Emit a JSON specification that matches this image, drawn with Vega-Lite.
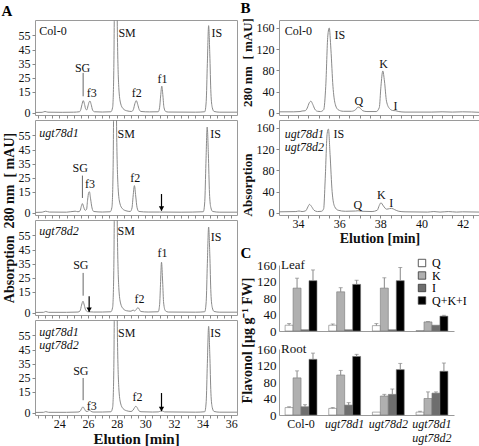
{
"$schema": "https://vega.github.io/schema/vega-lite/v6.json",
"padding": {"left": 1, "top": 1, "right": 1, "bottom": 0},
"config": {
  "font": "Liberation Serif",
  "view": {"stroke": "#9a9a9a", "strokeWidth": 1},
  "axis": {"labelFont": "Liberation Serif", "titleFont": "Liberation Serif", "labelFontSize": 12, "titleFontSize": 14, "titleFontWeight": "bold", "labelColor": "#111", "titleColor": "#111", "tickColor": "#888", "domainColor": "#9a9a9a", "grid": false, "tickSize": 3, "labelPadding": 2, "titlePadding": 2, "labelOverlap": false},
  "title": {"font": "Liberation Serif", "fontSize": 15, "fontWeight": "bold", "anchor": "start", "offset": 1, "color": "#000"},
  "text": {"font": "Liberation Serif", "fontSize": 12, "color": "#111"},
  "legend": {"labelFont": "Liberation Serif", "labelFontSize": 12}
},
"datasets": {
  "chromA": [
    {"p":"a1","t":22.3,"v":0.3},{"p":"a1","t":22.8,"v":0.4},{"p":"a1","t":23.0,"v":1.0},{"p":"a1","t":23.2,"v":0.5},{"p":"a1","t":24.2,"v":0.4},{"p":"a1","t":25.0,"v":0.5},{"p":"a1","t":25.4,"v":0.8},{"p":"a1","t":25.5,"v":2.5},{"p":"a1","t":25.58,"v":6},{"p":"a1","t":25.67,"v":8.7},{"p":"a1","t":25.76,"v":6},{"p":"a1","t":25.85,"v":2.5},{"p":"a1","t":25.92,"v":2.2},{"p":"a1","t":26.0,"v":5},{"p":"a1","t":26.08,"v":7.8},{"p":"a1","t":26.14,"v":8.4},{"p":"a1","t":26.22,"v":6},{"p":"a1","t":26.32,"v":2},{"p":"a1","t":26.45,"v":0.8},{"p":"a1","t":27.0,"v":0.6},{"p":"a1","t":27.6,"v":0.8},{"p":"a1","t":27.72,"v":4},{"p":"a1","t":27.8,"v":30},{"p":"a1","t":27.9,"v":140},{"p":"a1","t":27.98,"v":120},{"p":"a1","t":28.06,"v":50},{"p":"a1","t":28.15,"v":18},{"p":"a1","t":28.27,"v":7},{"p":"a1","t":28.45,"v":3},{"p":"a1","t":28.7,"v":1.5},{"p":"a1","t":29.05,"v":1},{"p":"a1","t":29.17,"v":2.5},{"p":"a1","t":29.27,"v":6.5},{"p":"a1","t":29.37,"v":8.7},{"p":"a1","t":29.47,"v":6},{"p":"a1","t":29.57,"v":2.5},{"p":"a1","t":29.7,"v":1},{"p":"a1","t":30.3,"v":0.7},{"p":"a1","t":30.9,"v":0.8},{"p":"a1","t":31.0,"v":4},{"p":"a1","t":31.07,"v":12},{"p":"a1","t":31.15,"v":19},{"p":"a1","t":31.23,"v":12},{"p":"a1","t":31.3,"v":4},{"p":"a1","t":31.42,"v":1},{"p":"a1","t":31.6,"v":0.6},{"p":"a1","t":33.5,"v":0.5},{"p":"a1","t":34.15,"v":0.8},{"p":"a1","t":34.25,"v":8},{"p":"a1","t":34.33,"v":35},{"p":"a1","t":34.42,"v":62},{"p":"a1","t":34.5,"v":42},{"p":"a1","t":34.58,"v":14},{"p":"a1","t":34.67,"v":4},{"p":"a1","t":34.8,"v":1},{"p":"a1","t":35.2,"v":0.5},{"p":"a1","t":36.4,"v":0.5},
    {"p":"a2","t":22.3,"v":0.3},{"p":"a2","t":22.8,"v":0.5},{"p":"a2","t":23.05,"v":1.2},{"p":"a2","t":23.3,"v":0.6},{"p":"a2","t":24.5,"v":0.5},{"p":"a2","t":25.1,"v":1.2},{"p":"a2","t":25.3,"v":0.8},{"p":"a2","t":25.45,"v":1.5},{"p":"a2","t":25.53,"v":4.5},{"p":"a2","t":25.61,"v":6.6},{"p":"a2","t":25.7,"v":4},{"p":"a2","t":25.8,"v":1.8},{"p":"a2","t":25.9,"v":2.5},{"p":"a2","t":25.97,"v":9},{"p":"a2","t":26.05,"v":14.5},{"p":"a2","t":26.1,"v":15},{"p":"a2","t":26.18,"v":10},{"p":"a2","t":26.28,"v":3.5},{"p":"a2","t":26.4,"v":1},{"p":"a2","t":27.0,"v":0.6},{"p":"a2","t":27.55,"v":0.8},{"p":"a2","t":27.67,"v":4},{"p":"a2","t":27.75,"v":30},{"p":"a2","t":27.85,"v":140},{"p":"a2","t":27.93,"v":120},{"p":"a2","t":28.01,"v":50},{"p":"a2","t":28.1,"v":18},{"p":"a2","t":28.22,"v":7},{"p":"a2","t":28.4,"v":3},{"p":"a2","t":28.65,"v":1.5},{"p":"a2","t":28.95,"v":1},{"p":"a2","t":29.07,"v":3.5},{"p":"a2","t":29.15,"v":12},{"p":"a2","t":29.24,"v":19.4},{"p":"a2","t":29.33,"v":12},{"p":"a2","t":29.42,"v":4},{"p":"a2","t":29.55,"v":1},{"p":"a2","t":30.2,"v":0.6},{"p":"a2","t":31.0,"v":0.6},{"p":"a2","t":32.5,"v":0.5},{"p":"a2","t":34.05,"v":0.8},{"p":"a2","t":34.15,"v":8},{"p":"a2","t":34.23,"v":35},{"p":"a2","t":34.32,"v":61},{"p":"a2","t":34.4,"v":42},{"p":"a2","t":34.48,"v":14},{"p":"a2","t":34.57,"v":4},{"p":"a2","t":34.7,"v":1},{"p":"a2","t":35.2,"v":0.5},{"p":"a2","t":36.4,"v":0.5},
    {"p":"a3","t":22.3,"v":0.3},{"p":"a3","t":22.9,"v":0.4},{"p":"a3","t":23.05,"v":1.0},{"p":"a3","t":23.25,"v":0.4},{"p":"a3","t":24.5,"v":0.4},{"p":"a3","t":25.3,"v":0.6},{"p":"a3","t":25.45,"v":1.5},{"p":"a3","t":25.55,"v":5.5},{"p":"a3","t":25.65,"v":8.3},{"p":"a3","t":25.74,"v":5.5},{"p":"a3","t":25.84,"v":2},{"p":"a3","t":26.0,"v":0.8},{"p":"a3","t":26.4,"v":0.6},{"p":"a3","t":27.0,"v":0.6},{"p":"a3","t":27.6,"v":0.8},{"p":"a3","t":27.72,"v":4},{"p":"a3","t":27.8,"v":30},{"p":"a3","t":27.9,"v":140},{"p":"a3","t":27.98,"v":120},{"p":"a3","t":28.06,"v":50},{"p":"a3","t":28.15,"v":18},{"p":"a3","t":28.27,"v":7},{"p":"a3","t":28.45,"v":3},{"p":"a3","t":28.7,"v":1.5},{"p":"a3","t":29.0,"v":1.2},{"p":"a3","t":29.15,"v":2},{"p":"a3","t":29.25,"v":1.4},{"p":"a3","t":29.38,"v":2.5},{"p":"a3","t":29.48,"v":3.8},{"p":"a3","t":29.57,"v":2.8},{"p":"a3","t":29.68,"v":1},{"p":"a3","t":30.2,"v":0.6},{"p":"a3","t":30.9,"v":0.8},{"p":"a3","t":31.0,"v":6},{"p":"a3","t":31.06,"v":20},{"p":"a3","t":31.13,"v":36},{"p":"a3","t":31.21,"v":22},{"p":"a3","t":31.28,"v":7},{"p":"a3","t":31.4,"v":1.5},{"p":"a3","t":31.6,"v":0.6},{"p":"a3","t":33.5,"v":0.5},{"p":"a3","t":34.15,"v":0.8},{"p":"a3","t":34.25,"v":8},{"p":"a3","t":34.33,"v":35},{"p":"a3","t":34.42,"v":61},{"p":"a3","t":34.5,"v":42},{"p":"a3","t":34.58,"v":14},{"p":"a3","t":34.67,"v":4},{"p":"a3","t":34.8,"v":1},{"p":"a3","t":35.2,"v":0.5},{"p":"a3","t":36.4,"v":0.5},
    {"p":"a4","t":22.3,"v":0.3},{"p":"a4","t":22.9,"v":0.4},{"p":"a4","t":23.05,"v":0.9},{"p":"a4","t":23.25,"v":0.4},{"p":"a4","t":24.5,"v":0.4},{"p":"a4","t":25.3,"v":0.6},{"p":"a4","t":25.45,"v":1.2},{"p":"a4","t":25.56,"v":3.2},{"p":"a4","t":25.65,"v":4.3},{"p":"a4","t":25.74,"v":3},{"p":"a4","t":25.85,"v":1.2},{"p":"a4","t":25.95,"v":1},{"p":"a4","t":26.05,"v":1.6},{"p":"a4","t":26.12,"v":1.8},{"p":"a4","t":26.2,"v":1.2},{"p":"a4","t":26.35,"v":0.6},{"p":"a4","t":27.0,"v":0.6},{"p":"a4","t":27.6,"v":0.8},{"p":"a4","t":27.72,"v":4},{"p":"a4","t":27.8,"v":30},{"p":"a4","t":27.9,"v":140},{"p":"a4","t":27.98,"v":120},{"p":"a4","t":28.06,"v":50},{"p":"a4","t":28.15,"v":18},{"p":"a4","t":28.27,"v":7},{"p":"a4","t":28.45,"v":3},{"p":"a4","t":28.7,"v":1.5},{"p":"a4","t":29.0,"v":1},{"p":"a4","t":29.15,"v":2},{"p":"a4","t":29.25,"v":3.8},{"p":"a4","t":29.34,"v":4.7},{"p":"a4","t":29.44,"v":3.6},{"p":"a4","t":29.55,"v":1.5},{"p":"a4","t":29.7,"v":0.8},{"p":"a4","t":30.5,"v":0.6},{"p":"a4","t":30.9,"v":0.7},{"p":"a4","t":31.05,"v":1.2},{"p":"a4","t":31.2,"v":1.3},{"p":"a4","t":31.35,"v":0.7},{"p":"a4","t":33.5,"v":0.5},{"p":"a4","t":34.15,"v":0.8},{"p":"a4","t":34.25,"v":8},{"p":"a4","t":34.33,"v":35},{"p":"a4","t":34.42,"v":61.5},{"p":"a4","t":34.5,"v":42},{"p":"a4","t":34.58,"v":14},{"p":"a4","t":34.67,"v":4},{"p":"a4","t":34.8,"v":1},{"p":"a4","t":35.2,"v":0.5},{"p":"a4","t":36.4,"v":0.5}
  ],
  "peakA": [
    {"p":"a1","t":25.62,"v":32,"label":"SG"},{"p":"a1","t":26.26,"v":14,"label":"f3"},{"p":"a1","t":29.4,"v":14,"label":"f2"},{"p":"a1","t":31.2,"v":24,"label":"f1"},
    {"p":"a2","t":25.45,"v":32,"label":"SG"},{"p":"a2","t":26.14,"v":20.5,"label":"f3"},{"p":"a2","t":29.3,"v":25,"label":"f2"},
    {"p":"a3","t":25.5,"v":34,"label":"SG"},{"p":"a3","t":29.6,"v":10,"label":"f2"},{"p":"a3","t":31.2,"v":42.6,"label":"f1"},
    {"p":"a4","t":25.5,"v":30,"label":"SG"},{"p":"a4","t":26.26,"v":5,"label":"f3"},{"p":"a4","t":29.45,"v":11.3,"label":"f2"}
  ],
  "sideA": [
    {"p":"a1","t":28.12,"v":57,"label":"SM"},{"p":"a1","t":34.62,"v":57,"label":"IS"},
    {"p":"a2","t":28.06,"v":56,"label":"SM"},{"p":"a2","t":34.53,"v":56,"label":"IS"},
    {"p":"a3","t":28.06,"v":58,"label":"SM"},{"p":"a3","t":34.57,"v":54,"label":"IS"},
    {"p":"a4","t":28.1,"v":57,"label":"SM"},{"p":"a4","t":34.53,"v":57,"label":"IS"}
  ],
  "nameA": [
    {"p":"a1","t":22.6,"v":58,"label":"Col-0"},
    {"p":"a2","t":22.6,"v":57,"label":"ugt78d1"},
    {"p":"a3","t":22.6,"v":58,"label":"ugt78d2"},
    {"p":"a4","t":22.6,"v":57.5,"label":"ugt78d1"},{"p":"a4","t":22.6,"v":48.5,"label":"ugt78d2"}
  ],
  "markA": [
    {"p":"a1","t":25.66,"v":28.4,"v2":11.8},{"p":"a2","t":25.61,"v":26.5,"v2":10.6},{"p":"a3","t":25.66,"v":28.4,"v2":12.2},{"p":"a4","t":25.66,"v":24.8,"v2":9}
  ],
  "arrA": [
    {"p":"a2","t":31.13,"v":13.4,"v2":1.6},{"p":"a3","t":26.08,"v":11.8,"v2":0.8},{"p":"a4","t":31.13,"v":14.1,"v2":1.3}
  ],
  "chromB": [
    {"p":"b1","t":33.08,"v":2},{"p":"b1","t":33.8,"v":2},{"p":"b1","t":34.1,"v":2.5},{"p":"b1","t":34.2,"v":3.5},{"p":"b1","t":34.35,"v":4},{"p":"b1","t":34.45,"v":9},{"p":"b1","t":34.55,"v":19},{"p":"b1","t":34.63,"v":22},{"p":"b1","t":34.72,"v":16},{"p":"b1","t":34.82,"v":7},{"p":"b1","t":34.95,"v":3},{"p":"b1","t":35.1,"v":2.5},{"p":"b1","t":35.25,"v":6},{"p":"b1","t":35.35,"v":50},{"p":"b1","t":35.45,"v":145},{"p":"b1","t":35.52,"v":160},{"p":"b1","t":35.6,"v":120},{"p":"b1","t":35.7,"v":50},{"p":"b1","t":35.8,"v":18},{"p":"b1","t":35.95,"v":6},{"p":"b1","t":36.2,"v":3},{"p":"b1","t":36.6,"v":3},{"p":"b1","t":36.8,"v":6},{"p":"b1","t":36.92,"v":11},{"p":"b1","t":37.02,"v":9},{"p":"b1","t":37.15,"v":4},{"p":"b1","t":37.35,"v":2.5},{"p":"b1","t":37.8,"v":2.5},{"p":"b1","t":37.95,"v":10},{"p":"b1","t":38.03,"v":50},{"p":"b1","t":38.12,"v":79},{"p":"b1","t":38.2,"v":60},{"p":"b1","t":38.3,"v":22},{"p":"b1","t":38.45,"v":8},{"p":"b1","t":38.6,"v":4.5},{"p":"b1","t":38.75,"v":4},{"p":"b1","t":38.9,"v":2.5},{"p":"b1","t":39.2,"v":1.5},{"p":"b1","t":40.5,"v":1.5},{"p":"b1","t":41.0,"v":2},{"p":"b1","t":41.5,"v":1.5},{"p":"b1","t":42.0,"v":2},{"p":"b1","t":42.84,"v":1},
    {"p":"b2","t":33.08,"v":2},{"p":"b2","t":33.9,"v":2.5},{"p":"b2","t":34.05,"v":3.5},{"p":"b2","t":34.2,"v":2.5},{"p":"b2","t":34.38,"v":4},{"p":"b2","t":34.48,"v":11},{"p":"b2","t":34.56,"v":16},{"p":"b2","t":34.66,"v":12},{"p":"b2","t":34.78,"v":5},{"p":"b2","t":34.95,"v":2.5},{"p":"b2","t":35.15,"v":3},{"p":"b2","t":35.25,"v":8},{"p":"b2","t":35.32,"v":60},{"p":"b2","t":35.42,"v":150},{"p":"b2","t":35.48,"v":158},{"p":"b2","t":35.56,"v":110},{"p":"b2","t":35.66,"v":40},{"p":"b2","t":35.78,"v":12},{"p":"b2","t":35.95,"v":5},{"p":"b2","t":36.3,"v":3},{"p":"b2","t":36.8,"v":3.5},{"p":"b2","t":36.92,"v":4},{"p":"b2","t":37.1,"v":3},{"p":"b2","t":37.6,"v":2.5},{"p":"b2","t":37.85,"v":5},{"p":"b2","t":37.95,"v":14},{"p":"b2","t":38.03,"v":19},{"p":"b2","t":38.15,"v":13},{"p":"b2","t":38.3,"v":7},{"p":"b2","t":38.45,"v":8},{"p":"b2","t":38.55,"v":8.5},{"p":"b2","t":38.7,"v":6},{"p":"b2","t":38.9,"v":3},{"p":"b2","t":39.2,"v":2},{"p":"b2","t":40.3,"v":1.5},{"p":"b2","t":40.6,"v":2.5},{"p":"b2","t":40.9,"v":1.5},{"p":"b2","t":41.3,"v":2.5},{"p":"b2","t":41.7,"v":1.5},{"p":"b2","t":42.0,"v":2},{"p":"b2","t":42.84,"v":1.5}
  ],
  "peakB": [
    {"p":"b1","t":36.96,"v":23,"label":"Q"},{"p":"b1","t":38.16,"v":92,"label":"K"},{"p":"b1","t":38.74,"v":12.5,"label":"I"},
    {"p":"b2","t":36.91,"v":15.7,"label":"Q"},{"p":"b2","t":38.05,"v":32.8,"label":"K"},{"p":"b2","t":38.53,"v":19,"label":"I"}
  ],
  "sideB": [
    {"p":"b1","t":35.78,"v":146,"label":"IS"},{"p":"b2","t":35.73,"v":149,"label":"IS"}
  ],
  "nameB": [
    {"p":"b1","t":33.36,"v":155,"label":"Col-0"},
    {"p":"b2","t":33.36,"v":149,"label":"ugt78d1"},{"p":"b2","t":33.36,"v":124,"label":"ugt78d2"}
  ],
  "flav": [
    {"organ":"Leaf","genotype":"Col-0","flavonol":"Q","value":14,"hi":18},
    {"organ":"Leaf","genotype":"Col-0","flavonol":"K","value":104,"hi":128},
    {"organ":"Leaf","genotype":"Col-0","flavonol":"I","value":3,"hi":3},
    {"organ":"Leaf","genotype":"Col-0","flavonol":"Q+K+I","value":122,"hi":148},
    {"organ":"Leaf","genotype":"ugt78d1","flavonol":"Q","value":14,"hi":17},
    {"organ":"Leaf","genotype":"ugt78d1","flavonol":"K","value":95,"hi":105},
    {"organ":"Leaf","genotype":"ugt78d1","flavonol":"I","value":3,"hi":3},
    {"organ":"Leaf","genotype":"ugt78d1","flavonol":"Q+K+I","value":113,"hi":123},
    {"organ":"Leaf","genotype":"ugt78d2","flavonol":"Q","value":13,"hi":18},
    {"organ":"Leaf","genotype":"ugt78d2","flavonol":"K","value":104,"hi":129},
    {"organ":"Leaf","genotype":"ugt78d2","flavonol":"I","value":3,"hi":3},
    {"organ":"Leaf","genotype":"ugt78d2","flavonol":"Q+K+I","value":122,"hi":154},
    {"organ":"Leaf","genotype":"ugt78d1 ugt78d2","flavonol":"Q","value":1,"hi":1},
    {"organ":"Leaf","genotype":"ugt78d1 ugt78d2","flavonol":"K","value":22,"hi":23},
    {"organ":"Leaf","genotype":"ugt78d1 ugt78d2","flavonol":"I","value":14,"hi":14},
    {"organ":"Leaf","genotype":"ugt78d1 ugt78d2","flavonol":"Q+K+I","value":36,"hi":38},
    {"organ":"Root","genotype":"Col-0","flavonol":"Q","value":18,"hi":20},
    {"organ":"Root","genotype":"Col-0","flavonol":"K","value":90,"hi":107},
    {"organ":"Root","genotype":"Col-0","flavonol":"I","value":20,"hi":25},
    {"organ":"Root","genotype":"Col-0","flavonol":"Q+K+I","value":135,"hi":150},
    {"organ":"Root","genotype":"ugt78d1","flavonol":"Q","value":16,"hi":18},
    {"organ":"Root","genotype":"ugt78d1","flavonol":"K","value":97,"hi":108},
    {"organ":"Root","genotype":"ugt78d1","flavonol":"I","value":24,"hi":30},
    {"organ":"Root","genotype":"ugt78d1","flavonol":"Q+K+I","value":142,"hi":147},
    {"organ":"Root","genotype":"ugt78d2","flavonol":"Q","value":7,"hi":7},
    {"organ":"Root","genotype":"ugt78d2","flavonol":"K","value":46,"hi":50},
    {"organ":"Root","genotype":"ugt78d2","flavonol":"I","value":50,"hi":63},
    {"organ":"Root","genotype":"ugt78d2","flavonol":"Q+K+I","value":110,"hi":125},
    {"organ":"Root","genotype":"ugt78d1 ugt78d2","flavonol":"Q","value":7,"hi":9},
    {"organ":"Root","genotype":"ugt78d1 ugt78d2","flavonol":"K","value":40,"hi":56},
    {"organ":"Root","genotype":"ugt78d1 ugt78d2","flavonol":"I","value":53,"hi":56},
    {"organ":"Root","genotype":"ugt78d1 ugt78d2","flavonol":"Q+K+I","value":106,"hi":126}
  ]
},
"hconcat": [
  {
    "title": {"text": "A"},
    "bounds": "flush",
    "spacing": 5,
    "vconcat": [
      {
        "width": 202, "height": 95,
        "layer": [
          {"data": {"name": "chromA"}, "transform": [{"filter": "datum.p == 'a1'"}],
           "mark": {"type": "line", "color": "#8a8a8a", "strokeWidth": 1, "interpolate": "monotone", "clip": true},
           "encoding": {
             "x": {"field": "t", "type": "quantitative", "scale": {"domain": [22.3, 36.4], "nice": false, "zero": false}, "axis": {"values": [22.5,23,23.5,24,24.5,25,25.5,26,26.5,27,27.5,28,28.5,29,29.5,30,30.5,31,31.5,32,32.5,33,33.5,34,34.5,35,35.5,36], "tickCount": 100, "labels": false, "title": null, "domain": false, "labelOverlap": false}},
             "y": {"field": "v", "type": "quantitative", "scale": {"domain": [-1.5, 66], "nice": false, "zero": false}, "axis": {"values": [0,15,25,35,45,55], "tickCount": 100, "format": "d", "title": null, "domain": false, "labelOverlap": false}}
           }},
          {"data": {"name": "markA"}, "transform": [{"filter": "datum.p == 'a1'"}],
           "mark": {"type": "rule", "color": "#666", "strokeWidth": 1},
           "encoding": {"x": {"field": "t", "type": "quantitative"}, "y": {"field": "v", "type": "quantitative"}, "y2": {"field": "v2"}}},
          {"data": {"name": "peakA"}, "transform": [{"filter": "datum.p == 'a1'"}],
           "mark": {"type": "text", "align": "center", "baseline": "middle"},
           "encoding": {"x": {"field": "t", "type": "quantitative"}, "y": {"field": "v", "type": "quantitative"}, "text": {"field": "label"}}},
          {"data": {"name": "sideA"}, "transform": [{"filter": "datum.p == 'a1'"}],
           "mark": {"type": "text", "align": "left", "baseline": "middle"},
           "encoding": {"x": {"field": "t", "type": "quantitative"}, "y": {"field": "v", "type": "quantitative"}, "text": {"field": "label"}}},
          {"data": {"name": "nameA"}, "transform": [{"filter": "datum.p == 'a1'"}],
           "mark": {"type": "text", "align": "left", "baseline": "middle", "fontStyle": "normal"},
           "encoding": {"x": {"field": "t", "type": "quantitative"}, "y": {"field": "v", "type": "quantitative"}, "text": {"field": "label"}}}
        ]
      },
      {
        "width": 202, "height": 95,
        "layer": [
          {"data": {"name": "chromA"}, "transform": [{"filter": "datum.p == 'a2'"}],
           "mark": {"type": "line", "color": "#8a8a8a", "strokeWidth": 1, "interpolate": "monotone", "clip": true},
           "encoding": {
             "x": {"field": "t", "type": "quantitative", "scale": {"domain": [22.3, 36.4], "nice": false, "zero": false}, "axis": {"values": [22.5,23,23.5,24,24.5,25,25.5,26,26.5,27,27.5,28,28.5,29,29.5,30,30.5,31,31.5,32,32.5,33,33.5,34,34.5,35,35.5,36], "tickCount": 100, "labels": false, "title": null, "domain": false, "labelOverlap": false}},
             "y": {"field": "v", "type": "quantitative", "scale": {"domain": [-1.5, 66], "nice": false, "zero": false}, "axis": {"values": [0,15,25,35,45,55], "tickCount": 100, "format": "d", "title": "Absorption\u00a0\u00a0280 nm\u00a0\u00a0[ mAU]", "titleY": 97.5, "domain": false, "labelOverlap": false}}
           }},
          {"data": {"name": "markA"}, "transform": [{"filter": "datum.p == 'a2'"}],
           "mark": {"type": "rule", "color": "#666", "strokeWidth": 1},
           "encoding": {"x": {"field": "t", "type": "quantitative"}, "y": {"field": "v", "type": "quantitative"}, "y2": {"field": "v2"}}},
          {"data": {"name": "arrA"}, "transform": [{"filter": "datum.p == 'a2'"}],
           "mark": {"type": "rule", "color": "#000", "strokeWidth": 1.2},
           "encoding": {"x": {"field": "t", "type": "quantitative"}, "y": {"field": "v", "type": "quantitative"}, "y2": {"field": "v2"}}},
          {"data": {"name": "arrA"}, "transform": [{"filter": "datum.p == 'a2'"}],
           "mark": {"type": "point", "shape": "triangle-down", "filled": true, "color": "#000", "size": 28, "opacity": 1, "yOffset": -2},
           "encoding": {"x": {"field": "t", "type": "quantitative"}, "y": {"field": "v2", "type": "quantitative"}}},
          {"data": {"name": "peakA"}, "transform": [{"filter": "datum.p == 'a2'"}],
           "mark": {"type": "text", "align": "center", "baseline": "middle"},
           "encoding": {"x": {"field": "t", "type": "quantitative"}, "y": {"field": "v", "type": "quantitative"}, "text": {"field": "label"}}},
          {"data": {"name": "sideA"}, "transform": [{"filter": "datum.p == 'a2'"}],
           "mark": {"type": "text", "align": "left", "baseline": "middle"},
           "encoding": {"x": {"field": "t", "type": "quantitative"}, "y": {"field": "v", "type": "quantitative"}, "text": {"field": "label"}}},
          {"data": {"name": "nameA"}, "transform": [{"filter": "datum.p == 'a2'"}],
           "mark": {"type": "text", "align": "left", "baseline": "middle", "fontStyle": "italic"},
           "encoding": {"x": {"field": "t", "type": "quantitative"}, "y": {"field": "v", "type": "quantitative"}, "text": {"field": "label"}}}
        ]
      },
      {
        "width": 202, "height": 95,
        "layer": [
          {"data": {"name": "chromA"}, "transform": [{"filter": "datum.p == 'a3'"}],
           "mark": {"type": "line", "color": "#8a8a8a", "strokeWidth": 1, "interpolate": "monotone", "clip": true},
           "encoding": {
             "x": {"field": "t", "type": "quantitative", "scale": {"domain": [22.3, 36.4], "nice": false, "zero": false}, "axis": {"values": [22.5,23,23.5,24,24.5,25,25.5,26,26.5,27,27.5,28,28.5,29,29.5,30,30.5,31,31.5,32,32.5,33,33.5,34,34.5,35,35.5,36], "tickCount": 100, "labels": false, "title": null, "domain": false, "labelOverlap": false}},
             "y": {"field": "v", "type": "quantitative", "scale": {"domain": [-1.5, 66], "nice": false, "zero": false}, "axis": {"values": [0,15,25,35,45,55], "tickCount": 100, "format": "d", "title": null, "domain": false, "labelOverlap": false}}
           }},
          {"data": {"name": "markA"}, "transform": [{"filter": "datum.p == 'a3'"}],
           "mark": {"type": "rule", "color": "#666", "strokeWidth": 1},
           "encoding": {"x": {"field": "t", "type": "quantitative"}, "y": {"field": "v", "type": "quantitative"}, "y2": {"field": "v2"}}},
          {"data": {"name": "arrA"}, "transform": [{"filter": "datum.p == 'a3'"}],
           "mark": {"type": "rule", "color": "#000", "strokeWidth": 1.2},
           "encoding": {"x": {"field": "t", "type": "quantitative"}, "y": {"field": "v", "type": "quantitative"}, "y2": {"field": "v2"}}},
          {"data": {"name": "arrA"}, "transform": [{"filter": "datum.p == 'a3'"}],
           "mark": {"type": "point", "shape": "triangle-down", "filled": true, "color": "#000", "size": 28, "opacity": 1, "yOffset": -2},
           "encoding": {"x": {"field": "t", "type": "quantitative"}, "y": {"field": "v2", "type": "quantitative"}}},
          {"data": {"name": "peakA"}, "transform": [{"filter": "datum.p == 'a3'"}],
           "mark": {"type": "text", "align": "center", "baseline": "middle"},
           "encoding": {"x": {"field": "t", "type": "quantitative"}, "y": {"field": "v", "type": "quantitative"}, "text": {"field": "label"}}},
          {"data": {"name": "sideA"}, "transform": [{"filter": "datum.p == 'a3'"}],
           "mark": {"type": "text", "align": "left", "baseline": "middle"},
           "encoding": {"x": {"field": "t", "type": "quantitative"}, "y": {"field": "v", "type": "quantitative"}, "text": {"field": "label"}}},
          {"data": {"name": "nameA"}, "transform": [{"filter": "datum.p == 'a3'"}],
           "mark": {"type": "text", "align": "left", "baseline": "middle", "fontStyle": "italic"},
           "encoding": {"x": {"field": "t", "type": "quantitative"}, "y": {"field": "v", "type": "quantitative"}, "text": {"field": "label"}}}
        ]
      },
      {
        "width": 202, "height": 95,
        "layer": [
          {"data": {"name": "chromA"}, "transform": [{"filter": "datum.p == 'a4'"}],
           "mark": {"type": "line", "color": "#8a8a8a", "strokeWidth": 1, "interpolate": "monotone", "clip": true},
           "encoding": {
             "x": {"field": "t", "type": "quantitative", "scale": {"domain": [22.3, 36.4], "nice": false, "zero": false}, "axis": {"values": [22.5,23,23.5,24,24.5,25,25.5,26,26.5,27,27.5,28,28.5,29,29.5,30,30.5,31,31.5,32,32.5,33,33.5,34,34.5,35,35.5,36], "tickCount": 100, "labelExpr": "datum.value % 2 == 0 ? '' + datum.value : ''", "title": "Elution [min]", "titleFontSize": 15, "titlePadding": 2, "labelPadding": 0, "domain": false, "labelOverlap": false}},
             "y": {"field": "v", "type": "quantitative", "scale": {"domain": [-1.5, 66], "nice": false, "zero": false}, "axis": {"values": [0,15,25,35,45,55], "tickCount": 100, "format": "d", "title": null, "domain": false, "labelOverlap": false}}
           }},
          {"data": {"name": "markA"}, "transform": [{"filter": "datum.p == 'a4'"}],
           "mark": {"type": "rule", "color": "#666", "strokeWidth": 1},
           "encoding": {"x": {"field": "t", "type": "quantitative"}, "y": {"field": "v", "type": "quantitative"}, "y2": {"field": "v2"}}},
          {"data": {"name": "arrA"}, "transform": [{"filter": "datum.p == 'a4'"}],
           "mark": {"type": "rule", "color": "#000", "strokeWidth": 1.2},
           "encoding": {"x": {"field": "t", "type": "quantitative"}, "y": {"field": "v", "type": "quantitative"}, "y2": {"field": "v2"}}},
          {"data": {"name": "arrA"}, "transform": [{"filter": "datum.p == 'a4'"}],
           "mark": {"type": "point", "shape": "triangle-down", "filled": true, "color": "#000", "size": 28, "opacity": 1, "yOffset": -2},
           "encoding": {"x": {"field": "t", "type": "quantitative"}, "y": {"field": "v2", "type": "quantitative"}}},
          {"data": {"name": "peakA"}, "transform": [{"filter": "datum.p == 'a4'"}],
           "mark": {"type": "text", "align": "center", "baseline": "middle"},
           "encoding": {"x": {"field": "t", "type": "quantitative"}, "y": {"field": "v", "type": "quantitative"}, "text": {"field": "label"}}},
          {"data": {"name": "sideA"}, "transform": [{"filter": "datum.p == 'a4'"}],
           "mark": {"type": "text", "align": "left", "baseline": "middle"},
           "encoding": {"x": {"field": "t", "type": "quantitative"}, "y": {"field": "v", "type": "quantitative"}, "text": {"field": "label"}}},
          {"data": {"name": "nameA"}, "transform": [{"filter": "datum.p == 'a4'"}],
           "mark": {"type": "text", "align": "left", "baseline": "middle", "fontStyle": "italic"},
           "encoding": {"x": {"field": "t", "type": "quantitative"}, "y": {"field": "v", "type": "quantitative"}, "text": {"field": "label"}}}
        ]
      }
    ]
  },
  {
    "spacing": 0,
    "vconcat": [
      {
        "title": {"text": "B"},
        "bounds": "flush",
        "spacing": 5,
        "vconcat": [
          {
            "width": 201, "height": 95,
            "layer": [
              {"data": {"name": "chromB"}, "transform": [{"filter": "datum.p == 'b1'"}],
               "mark": {"type": "line", "color": "#8a8a8a", "strokeWidth": 1, "interpolate": "monotone", "clip": true},
               "encoding": {
                 "x": {"field": "t", "type": "quantitative", "scale": {"domain": [33.08, 42.84], "nice": false, "zero": false}, "axis": {"values": [33.5,34,34.5,35,35.5,36,36.5,37,37.5,38,38.5,39,39.5,40,40.5,41,41.5,42,42.5], "tickCount": 100, "labels": false, "title": null, "domain": false, "labelOverlap": false}},
                 "y": {"field": "v", "type": "quantitative", "scale": {"domain": [-4, 175], "nice": false, "zero": false}, "axis": {"values": [0,40,80,120,160], "tickCount": 100, "format": "d", "title": "280 nm\u00a0\u00a0[ mAU]", "titleFontSize": 13, "titleY": 42, "domain": false, "labelOverlap": false}}
               }},
              {"data": {"name": "peakB"}, "transform": [{"filter": "datum.p == 'b1'"}],
               "mark": {"type": "text", "align": "center", "baseline": "middle"},
               "encoding": {"x": {"field": "t", "type": "quantitative"}, "y": {"field": "v", "type": "quantitative"}, "text": {"field": "label"}}},
              {"data": {"name": "sideB"}, "transform": [{"filter": "datum.p == 'b1'"}],
               "mark": {"type": "text", "align": "left", "baseline": "middle"},
               "encoding": {"x": {"field": "t", "type": "quantitative"}, "y": {"field": "v", "type": "quantitative"}, "text": {"field": "label"}}},
              {"data": {"name": "nameB"}, "transform": [{"filter": "datum.p == 'b1'"}],
               "mark": {"type": "text", "align": "left", "baseline": "middle", "fontStyle": "normal"},
               "encoding": {"x": {"field": "t", "type": "quantitative"}, "y": {"field": "v", "type": "quantitative"}, "text": {"field": "label"}}}
            ]
          },
          {
            "width": 201, "height": 95,
            "layer": [
              {"data": {"name": "chromB"}, "transform": [{"filter": "datum.p == 'b2'"}],
               "mark": {"type": "line", "color": "#8a8a8a", "strokeWidth": 1, "interpolate": "monotone", "clip": true},
               "encoding": {
                 "x": {"field": "t", "type": "quantitative", "scale": {"domain": [33.08, 42.84], "nice": false, "zero": false}, "axis": {"values": [33.5,34,34.5,35,35.5,36,36.5,37,37.5,38,38.5,39,39.5,40,40.5,41,41.5,42,42.5], "tickCount": 100, "labelExpr": "datum.value % 2 == 0 ? '' + datum.value : ''", "title": "Elution [min]", "titleFontSize": 14, "titlePadding": 2, "labelPadding": 0, "domain": false, "labelOverlap": false}},
                 "y": {"field": "v", "type": "quantitative", "scale": {"domain": [-4, 175], "nice": false, "zero": false}, "axis": {"values": [0,40,80,120,160], "tickCount": 100, "format": "d", "title": "Absorption", "titleFontSize": 13, "titleY": 64.5, "domain": false, "labelOverlap": false}}
               }},
              {"data": {"name": "peakB"}, "transform": [{"filter": "datum.p == 'b2'"}],
               "mark": {"type": "text", "align": "center", "baseline": "middle"},
               "encoding": {"x": {"field": "t", "type": "quantitative"}, "y": {"field": "v", "type": "quantitative"}, "text": {"field": "label"}}},
              {"data": {"name": "sideB"}, "transform": [{"filter": "datum.p == 'b2'"}],
               "mark": {"type": "text", "align": "left", "baseline": "middle"},
               "encoding": {"x": {"field": "t", "type": "quantitative"}, "y": {"field": "v", "type": "quantitative"}, "text": {"field": "label"}}},
              {"data": {"name": "nameB"}, "transform": [{"filter": "datum.p == 'b2'"}],
               "mark": {"type": "text", "align": "left", "baseline": "middle", "fontStyle": "italic"},
               "encoding": {"x": {"field": "t", "type": "quantitative"}, "y": {"field": "v", "type": "quantitative"}, "text": {"field": "label"}}}
            ]
          }
        ]
      },
      {
        "title": {"text": "C", "offset": -4},
        "bounds": "flush",
        "spacing": 18,
        "resolve": {"scale": {"color": "independent", "x": "independent", "y": "independent"}, "legend": {"color": "independent"}},
        "vconcat": [
          {
            "width": 175, "height": 66,
            "view": {"stroke": null},
            "layer": [
              {"data": {"name": "flav"}, "transform": [{"filter": "datum.organ == 'Leaf'"}],
               "mark": {"type": "bar", "stroke": "#777", "strokeWidth": 0.6},
               "encoding": {
                 "x": {"field": "genotype", "type": "nominal", "sort": ["Col-0","ugt78d1","ugt78d2","ugt78d1 ugt78d2"], "scale": {"paddingInner": 0.27, "paddingOuter": 0.14}, "axis": {"labels": false, "ticks": false, "title": null}},
                 "xOffset": {"field": "flavonol", "type": "nominal", "sort": ["Q","K","I","Q+K+I"]},
                 "y": {"field": "value", "type": "quantitative", "scale": {"domain": [0, 160], "nice": false}, "axis": {"values": [0,40,80,120,160], "tickCount": 100, "format": "d", "title": "Flavonol [µg g\u207b\u00b9 FW]", "titleY": 75, "labelFontSize": 13, "tickSize": 0, "labelPadding": 3, "labelOverlap": false}},
                 "color": {"field": "flavonol", "type": "nominal", "sort": ["Q","K","I","Q+K+I"], "scale": {"domain": ["Q","K","I","Q+K+I"], "range": ["#ffffff","#b0b0b0","#6e6e6e","#000000"]},
                   "legend": {"orient": "none", "legendX": 137, "legendY": -8, "title": null, "symbolType": "square", "symbolSize": 55, "symbolStrokeColor": "#333", "symbolStrokeWidth": 0.8, "labelFontSize": 12, "labelLimit": 200, "rowPadding": 0.5, "padding": 0, "labelOffset": 4}}
               }},
              {"data": {"name": "flav"}, "transform": [{"filter": "datum.organ == 'Leaf' && datum.hi > datum.value"}],
               "mark": {"type": "rule", "color": "#888", "strokeWidth": 1},
               "encoding": {
                 "x": {"field": "genotype", "type": "nominal", "sort": ["Col-0","ugt78d1","ugt78d2","ugt78d1 ugt78d2"]},
                 "xOffset": {"field": "flavonol", "type": "nominal", "sort": ["Q","K","I","Q+K+I"]},
                 "y": {"field": "value", "type": "quantitative"}, "y2": {"field": "hi"}
               }},
              {"data": {"name": "flav"}, "transform": [{"filter": "datum.organ == 'Leaf' && datum.hi > datum.value"}],
               "mark": {"type": "tick", "color": "#888", "size": 4, "thickness": 1},
               "encoding": {
                 "x": {"field": "genotype", "type": "nominal", "sort": ["Col-0","ugt78d1","ugt78d2","ugt78d1 ugt78d2"]},
                 "xOffset": {"field": "flavonol", "type": "nominal", "sort": ["Q","K","I","Q+K+I"]},
                 "y": {"field": "hi", "type": "quantitative"}
               }},
              {"data": {"values": [{"organ": "Leaf"}]},
               "mark": {"type": "text", "align": "left", "baseline": "middle", "fontSize": 13, "dx": -4},
               "encoding": {"x": {"datum": "Col-0", "bandPosition": 0}, "y": {"datum": 160}, "text": {"field": "organ"}}}
            ]
          },
          {
            "width": 175, "height": 66,
            "view": {"stroke": null},
            "layer": [
              {"data": {"name": "flav"}, "transform": [{"filter": "datum.organ == 'Root'"}],
               "mark": {"type": "bar", "stroke": "#777", "strokeWidth": 0.6},
               "encoding": {
                 "x": {"field": "genotype", "type": "nominal", "sort": ["Col-0","ugt78d1","ugt78d2","ugt78d1 ugt78d2"], "scale": {"paddingInner": 0.27, "paddingOuter": 0.14}, "axis": {"ticks": false, "title": null, "labelAngle": 0, "labelFontSize": 12, "labelPadding": 3, "labelLineHeight": 14, "labelExpr": "split(datum.label, ' ')", "labelFontStyle": {"condition": {"test": "datum.value == 'Col-0'", "value": "normal"}, "value": "italic"}}},
                 "xOffset": {"field": "flavonol", "type": "nominal", "sort": ["Q","K","I","Q+K+I"]},
                 "y": {"field": "value", "type": "quantitative", "scale": {"domain": [0, 160], "nice": false}, "axis": {"values": [0,40,80,120,160], "tickCount": 100, "format": "d", "title": null, "labelFontSize": 13, "tickSize": 0, "labelPadding": 3, "labelOverlap": false}},
                 "color": {"field": "flavonol", "type": "nominal", "sort": ["Q","K","I","Q+K+I"], "scale": {"domain": ["Q","K","I","Q+K+I"], "range": ["#ffffff","#b0b0b0","#6e6e6e","#000000"]}, "legend": null}
               }},
              {"data": {"name": "flav"}, "transform": [{"filter": "datum.organ == 'Root' && datum.hi > datum.value"}],
               "mark": {"type": "rule", "color": "#888", "strokeWidth": 1},
               "encoding": {
                 "x": {"field": "genotype", "type": "nominal", "sort": ["Col-0","ugt78d1","ugt78d2","ugt78d1 ugt78d2"]},
                 "xOffset": {"field": "flavonol", "type": "nominal", "sort": ["Q","K","I","Q+K+I"]},
                 "y": {"field": "value", "type": "quantitative"}, "y2": {"field": "hi"}
               }},
              {"data": {"name": "flav"}, "transform": [{"filter": "datum.organ == 'Root' && datum.hi > datum.value"}],
               "mark": {"type": "tick", "color": "#888", "size": 4, "thickness": 1},
               "encoding": {
                 "x": {"field": "genotype", "type": "nominal", "sort": ["Col-0","ugt78d1","ugt78d2","ugt78d1 ugt78d2"]},
                 "xOffset": {"field": "flavonol", "type": "nominal", "sort": ["Q","K","I","Q+K+I"]},
                 "y": {"field": "hi", "type": "quantitative"}
               }},
              {"data": {"values": [{"organ": "Root"}]},
               "mark": {"type": "text", "align": "left", "baseline": "middle", "fontSize": 13, "dx": -4},
               "encoding": {"x": {"datum": "Col-0", "bandPosition": 0}, "y": {"datum": 160}, "text": {"field": "organ"}}}
            ]
          }
        ]
      }
    ]
  }
],
"spacing": 2
}
